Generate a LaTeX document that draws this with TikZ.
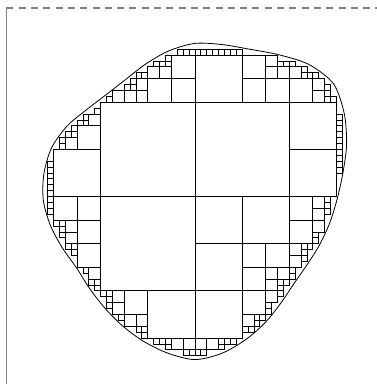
\documentclass[tikz,border=0pt]{standalone}
\usepackage{tikz}
\def\rtval#1{\ifcase#1 141.9\or 150.0\or 161.3\or 172.4\or 180.8\or 177.0\or 167.7\or 160.4\or 157.8\or 156.6\or 151.4\or 144.6\or 139.0\or 137.8\or 141.0\or 147.8\or 152.6\or 153.4\or 151.7\or 146.8\or 140.9\or 136.5\or 137.6\or 140.7\or 145.2\or 150.4\or 155.6\or 159.6\or 155.6\or 148.5\or 141.1\or 134.0\or 129.5\or 129.4\or 132.3\or 136.5\or 141.9\else 141.9\fi}
% inside test of a point (pixel coordinates, y downwards)
\newcommand\qtin[2]{%
  \pgfmathsetmacro\qtdx{(#1)-195}%
  \pgfmathsetmacro\qtdy{200-(#2)}%
  \pgfmathsetmacro\qtd{100*sqrt((\qtdx/100)^2+(\qtdy/100)^2)}%
  \ifdim\qtd pt<120pt \def\qtres{1}\else
    \pgfmathsetmacro\qtth{atan2(\qtdy,\qtdx)}%
    \ifdim\qtth pt<0pt \pgfmathsetmacro\qtth{\qtth+360}\fi
    \pgfmathtruncatemacro\qti{floor(\qtth/10)}%
    \edef\qtra{\rtval{\qti}}%
    \edef\qtrb{\rtval{\numexpr\qti+1\relax}}%
    \pgfmathsetmacro\qtt{\qtth/10-\qti}%
    \pgfmathsetmacro\qtr{\qtra*(1-\qtt)+\qtrb*\qtt-0.5}%
    \ifdim\qtd pt<\qtr pt \def\qtres{1}\else\def\qtres{0}\fi
  \fi}
% quadtree cell: x y size depth
\newcommand\qtsq[4]{%
  \begingroup
  \pgfmathsetmacro\xa{#1}\pgfmathsetmacro\xb{#1+#3}%
  \pgfmathsetmacro\ya{#2}\pgfmathsetmacro\yb{#2+#3}%
  \pgfmathsetmacro\xm{#1+#3/2}\pgfmathsetmacro\ym{#2+#3/2}%
  \qtin{\xa}{\ya}\let\ca\qtres
  \qtin{\xb}{\ya}\let\cb\qtres
  \qtin{\xa}{\yb}\let\cc\qtres
  \qtin{\xb}{\yb}\let\cd\qtres
  \pgfmathtruncatemacro\nin{\ca+\cb+\cc+\cd}%
  \ifnum\nin=4
    \draw[cell] (\xa,\ya) rectangle (\xb,\yb);
  \else
    \ifnum#4<6
      \qtin{\xm}{\ym}\let\ce\qtres
      \pgfmathtruncatemacro\go{\nin+\ce+((#3)>50)}%
      \ifnum\go>0
        \pgfmathsetmacro\hs{#3/2}%
        \pgfmathtruncatemacro\nd{#4+1}%
        \edef\next{\noexpand\qtsq{\xa}{\ya}{\hs}{\nd}\noexpand\qtsq{\xm}{\ya}{\hs}{\nd}\noexpand\qtsq{\xa}{\ym}{\hs}{\nd}\noexpand\qtsq{\xm}{\ym}{\hs}{\nd}}%
        \next
      \fi
    \fi
  \fi
  \endgroup}
\begin{document}
\begin{tikzpicture}[x=1pt,y=-1pt,
  cell/.style={line width=1pt, black},
  blob/.style={line width=0.8pt, black},
  frameline/.style={line width=1.3pt, black!50},
  framedash/.style={line width=1.1pt, black!50, dash pattern=on 7pt off 5.3pt}]
\useasboundingbox (0,0) rectangle (377,384);
\coordinate (tl) at (6.4,8);
\coordinate (bl) at (6.4,384);
\coordinate (tr) at (377,8);
\draw[frameline] (tl) -- (bl);
\draw[framedash] (tl) -- (tr);
\qtsq{6.4}{8}{377.3}{0}
\def\blobpts{}
\foreach \i in {0,...,35}{%
  \pgfmathsetmacro\bx{195+\rtval{\i}*cos(10*\i)}%
  \pgfmathsetmacro\by{200-\rtval{\i}*sin(10*\i)}%
  \xdef\blobpts{\blobpts(\bx,\by)}}
\draw[blob] plot[smooth cycle] coordinates {\blobpts};
\end{tikzpicture}
\end{document}
